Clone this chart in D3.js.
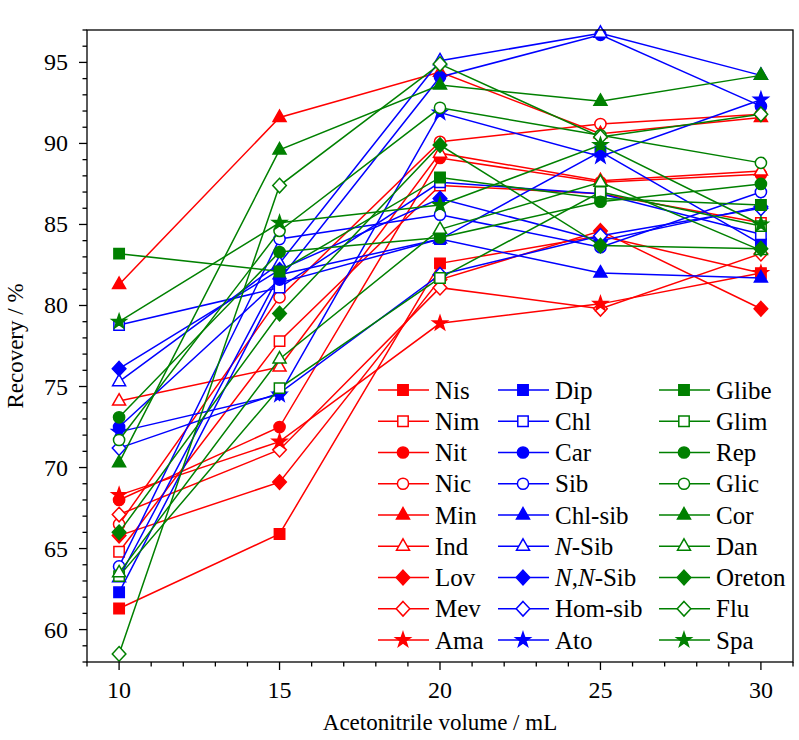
<!DOCTYPE html>
<html><head><meta charset="utf-8">
<script src="https://cdn.jsdelivr.net/npm/d3@7"></script>
<style>
body{margin:0;background:#fff}
text{font-family:"Liberation Serif","Times New Roman",Times,"DejaVu Serif",serif;}
</style></head>
<body>
<svg id="c" width="799" height="740"></svg>
<script>
const xValues = [10, 15, 20, 25, 30];
const yTicks = [60, 65, 70, 75, 80, 85, 90, 95];
const xTicks = [10, 15, 20, 25, 30];

const seriesNames  = ["Nis","Nim","Nit","Nic","Min","Ind","Lov","Mev","Ama",
                      "Dip","Chl","Car","Sib","Chl-sib","N-Sib","N,N-Sib","Hom-sib","Ato",
                      "Glibe","Glim","Rep","Glic","Cor","Dan","Oreton","Flu","Spa"];
const groupColors  = ["#FF0000","#0000FF","#008000"];
const shapeOrder   = ["square","square","circle","circle","triangle","triangle","diamond","diamond","star"];
const filledOrder  = [true,false,true,false,true,false,true,false,true];

// red group
const Nis  = [61.3, 65.9, 82.6, 84.3, 82.0];
const Nim  = [64.8, 77.8, 87.4, 86.9, 85.1];
const Nit  = [68.0, 72.5, 89.1, 87.6, 88.1];
const Nic  = [66.5, 80.5, 90.1, 91.2, 91.8];
const Min  = [81.3, 91.6, 94.4, 90.6, 91.6];
const Ind  = [74.1, 76.2, 89.4, 87.7, 88.3];
const Lov  = [65.8, 69.1, 81.6, 84.6, 79.8];
const Mev  = [67.1, 71.1, 81.1, 79.8, 83.2];
const Ama  = [68.3, 71.6, 78.9, 80.1, 82.0];
// blue group
const Dip    = [62.3, 81.4, 84.1, 89.5, 83.8];
const Chl    = [78.8, 81.1, 87.6, 86.9, 84.4];
const Car    = [72.5, 81.6, 94.1, 96.7, 92.3];
const Sib    = [63.9, 84.1, 85.6, 83.6, 87.0];
const ChlSib = [63.2, 81.9, 84.1, 82.0, 81.7];
const NSib   = [75.3, 82.6, 95.1, 96.8, 94.2];
const NNSib  = [76.1, 82.2, 86.6, 84.0, 86.1];
const HomSib = [71.2, 74.6, 81.9, 84.3, 86.0];
const Ato    = [72.2, 74.5, 91.9, 89.2, 92.7];
// green group
const Glibe  = [83.2, 82.1, 87.9, 86.6, 86.2];
const Glim   = [63.3, 74.9, 81.7, 87.0, 84.9];
const Rep    = [73.1, 83.3, 84.2, 86.4, 87.5];
const Glic   = [71.7, 84.6, 92.2, 90.5, 88.8];
const Cor    = [70.3, 89.6, 93.6, 92.6, 94.2];
const Dan    = [63.5, 76.7, 84.7, 87.6, 83.4];
const Oreton = [66.0, 79.5, 89.9, 83.7, 83.5];
const Flu    = [58.5, 87.4, 94.9, 90.4, 91.8];
const Spa    = [79.0, 85.1, 86.2, 89.9, 85.0];

const seriesValues = [Nis,Nim,Nit,Nic,Min,Ind,Lov,Mev,Ama,
                      Dip,Chl,Car,Sib,ChlSib,NSib,NNSib,HomSib,Ato,
                      Glibe,Glim,Rep,Glic,Cor,Dan,Oreton,Flu,Spa];

const series = seriesNames.map((name, i) => ({
  name, values: seriesValues[i],
  color: groupColors[Math.floor(i / 9)],
  shape: shapeOrder[i % 9],
  filled: filledOrder[i % 9],
  group: Math.floor(i / 9), row: i % 9
}));

const L = 87, R = 793, T = 30, B = 662;
const svg = d3.select("#c");
const x = d3.scaleLinear().domain([9, 31]).range([L, R]);
const y = d3.scaleLinear().domain([58, 97]).range([B, T]);

function markerPath(shape) {
  const p = d3.path();
  if (shape === "square") { const s = 5.2; p.rect(-s, -s, 2*s, 2*s); }
  else if (shape === "circle") { p.arc(0, 0, 5.6, 0, 2*Math.PI); p.closePath(); }
  else if (shape === "triangle") { p.moveTo(0,-7.4); p.lineTo(6.5,4.0); p.lineTo(-6.5,4.0); p.closePath(); }
  else if (shape === "diamond") { p.moveTo(0,-7.3); p.lineTo(6.8,0); p.lineTo(0,7.3); p.lineTo(-6.8,0); p.closePath(); }
  else if (shape === "star") {
    const Ro = 7.6, Ri = 3.0;
    for (let k = 0; k < 10; k++) {
      const r = k % 2 ? Ri : Ro, a = -Math.PI/2 + k*Math.PI/5;
      const px = r*Math.cos(a), py = r*Math.sin(a);
      k ? p.lineTo(px, py) : p.moveTo(px, py);
    }
    p.closePath();
  }
  return p.toString();
}

const gAxis = svg.append("g").attr("stroke", "#000").attr("stroke-width", 1.3);
d3.range(58, 98).forEach(v => {
  const major = v % 5 === 0;
  gAxis.append("line").attr("x1", L).attr("x2", L - (major ? 8 : 4.5))
    .attr("y1", y(v)).attr("y2", y(v));
});
d3.range(9, 32).forEach(v => {
  const major = v % 5 === 0;
  gAxis.append("line").attr("y1", B).attr("y2", B + (major ? 8 : 4.5))
    .attr("x1", x(v)).attr("x2", x(v));
});

svg.append("g").selectAll("text").data(yTicks).join("text")
  .attr("x", 68).attr("y", d => y(d) + 8)
  .attr("text-anchor", "end").attr("font-size", 24)
  .text(d => d);
svg.append("g").selectAll("text").data(xTicks).join("text")
  .attr("x", d => x(d)).attr("y", 698)
  .attr("text-anchor", "middle").attr("font-size", 24)
  .text(d => d);

svg.append("text").attr("transform", `translate(23,${(T+B)/2}) rotate(-90)`)
  .attr("text-anchor", "middle").attr("font-size", 23)
  .text("Recovery / %");
svg.append("text").attr("x", (L+R)/2).attr("y", 730)
  .attr("text-anchor", "middle").attr("font-size", 23)
  .text("Acetonitrile volume / mL");

const line = d3.line().x((d, i) => x(xValues[i])).y(d => y(d));
const gData = svg.append("g");
series.forEach(s => {
  const g = gData.append("g");
  g.append("path").attr("d", line(s.values)).attr("fill", "none")
    .attr("stroke", s.color).attr("stroke-width", 1.5);
  g.selectAll("path.m").data(s.values).join("path").attr("class", "m")
    .attr("d", markerPath(s.shape))
    .attr("transform", (d, i) => `translate(${x(xValues[i])},${y(d)})`)
    .attr("fill", s.filled ? s.color : "#fff")
    .attr("stroke", s.color).attr("stroke-width", 1.5);
});

const legX = [403, 523, 684];
const legY0 = 390, legDy = 31.25;
const gLeg = svg.append("g");
series.forEach(s => {
  const cx = legX[s.group], cy = legY0 + s.row * legDy;
  gLeg.append("line").attr("x1", cx - 25).attr("x2", cx + 26).attr("y1", cy).attr("y2", cy)
    .attr("stroke", s.color).attr("stroke-width", 1.5);
  gLeg.append("path").attr("d", markerPath(s.shape)).attr("transform", `translate(${cx},${cy})`)
    .attr("fill", s.filled ? s.color : "#fff").attr("stroke", s.color).attr("stroke-width", 1.5);
  const t = gLeg.append("text").attr("x", cx + 32).attr("y", cy + 8.5).attr("font-size", 25);
  if (s.name === "N-Sib") {
    t.append("tspan").attr("font-style", "italic").text("N");
    t.append("tspan").text("-Sib");
  } else if (s.name === "N,N-Sib") {
    t.append("tspan").attr("font-style", "italic").text("N");
    t.append("tspan").text(",");
    t.append("tspan").attr("font-style", "italic").text("N");
    t.append("tspan").text("-Sib");
  } else t.text(s.name);
});

svg.append("rect").attr("x", L).attr("y", T).attr("width", R - L).attr("height", B - T)
  .attr("fill", "none").attr("stroke", "#000").attr("stroke-width", 1.3);
</script>
</body></html>
